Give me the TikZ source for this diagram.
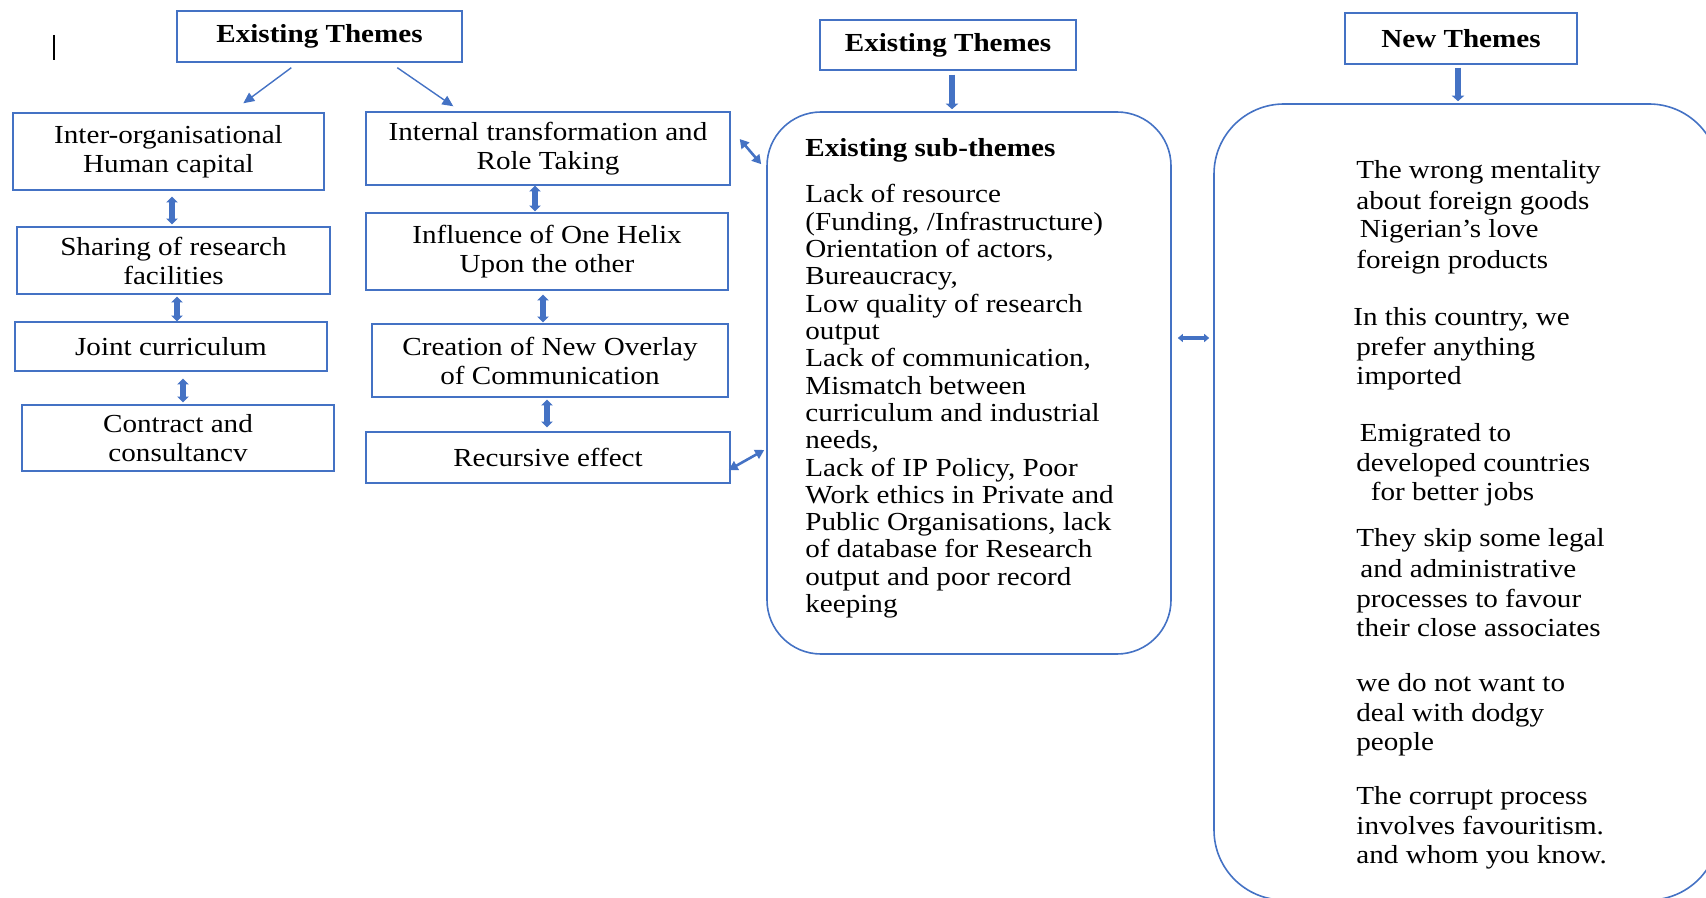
\documentclass[tikz,border=0pt]{standalone}
\usepackage{fontspec}
\setmainfont{Liberation Serif}[FakeStretch=1.12]
\usetikzlibrary{arrows.meta,calc}
\definecolor{boxblue}{RGB}{68,114,196}

\begin{document}
\begin{tikzpicture}[x=0.5pt,y=-0.5pt,
  every node/.style={font=\fontsize{13}{14.5}\selectfont, text=black},
  box/.style={draw=boxblue, line width=0.7pt, inner sep=0pt, align=center},
  boldbox/.style={box, font=\bfseries\fontsize{13}{14.5}\selectfont},
  roundbox/.style={draw=boxblue, line width=0.8pt, inner sep=0pt},
  thinarr/.style={draw=boxblue, line width=0.7pt, -{Triangle[length=5.5pt,width=5pt]}},
  vdbl/.style={draw=boxblue, line width=2.8pt, {Triangle[length=2.8pt,width=5.6pt]}-{Triangle[length=2.8pt,width=5.6pt]}},
  ddbl/.style={draw=boxblue, line width=1.3pt, {Triangle[length=4.5pt,width=5pt]}-{Triangle[length=4.5pt,width=5pt]}},
  hdbl/.style={draw=boxblue, line width=1.8pt, {Triangle[length=2.5pt,width=4pt]}-{Triangle[length=2.5pt,width=4pt]}},
  downarr/.style={draw=boxblue, line width=3pt, -{Triangle[length=2.8pt,width=6.2pt]}},
  textline/.style={anchor=base west, inner sep=0pt}
]
\useasboundingbox (0,0) rectangle (1706,898);
\clip (0,0) rectangle (1706,898);

% text cursor mark
\draw[line width=1pt] (54,35) -- (54,60);

% left group
\node[boldbox, minimum width=142.5pt, minimum height=25.5pt] (et1) at (319.5,36.5) {Existing Themes};
\node[box, minimum width=155.5pt, minimum height=38.5pt] (inter) at (168.5,151.5) {Inter-organisational\\Human capital};
\node[box, minimum width=156.5pt, minimum height=33.5pt] (share) at (173.5,260.5) {Sharing of research\\facilities};
\node[box, minimum width=156pt, minimum height=24.5pt] (joint) at (171,346.5) {Joint curriculum};
\node[box, minimum width=156pt, minimum height=33pt] (contract) at (178,438) {Contract and\\consultancv};

\node[box, minimum width=182pt, minimum height=36.5pt] (internal) at (548,148.5) {Internal transformation and\\Role Taking};
\node[box, minimum width=181pt, minimum height=38.5pt] (influence) at (547,251.5) {Influence of One Helix\\Upon the other};
\node[box, minimum width=178pt, minimum height=36.5pt] (creation) at (550,360.5) {Creation of New Overlay\\of Communication};
\node[box, minimum width=182pt, minimum height=25.5pt] (recursive) at (548,457.5) {Recursive effect};

% middle group
\node[boldbox, minimum width=128pt, minimum height=25pt] (et2) at (948,45) {Existing Themes};
\node[roundbox, rounded corners=27pt, minimum width=202pt, minimum height=271pt] (sub) at (969,383) {};

% right group
\node[boldbox, minimum width=116pt, minimum height=25.5pt] (newthemes) at (1461,38.5) {New Themes};
\node[roundbox, rounded corners=35pt, minimum width=252.5pt, minimum height=398pt] (newbox) at (1466.5,502) {};

% connectors
\draw[thinarr] ($(et1.south west)+(115,5)$) -- ($(inter.north west)+(231,-9)$);
\draw[thinarr] ($(et1.south west)+(221,5)$) -- ($(internal.north west)+(88,-5)$);

\draw[vdbl] ($(inter.south)+(3.5,6)$) -- ($(share.north)+(-1.5,-2)$);
\draw[vdbl] ($(share.south)+(3.5,2)$) -- ($(joint.north)+(6,0)$);
\draw[vdbl] ($(joint.south)+(12,7)$) -- ($(contract.north)+(5,-2)$);
\draw[vdbl] ($(internal.south)+(-13,0)$) -- ($(influence.north)+(-12,-1)$);
\draw[vdbl] ($(influence.south)+(-4,4)$) -- ($(creation.north)+(-7,-1)$);
\draw[vdbl] ($(creation.south)+(-3,2)$) -- ($(recursive.north)+(-1,-4)$);

\draw[ddbl] ($(internal.east)+(9,-9.5)$) -- ($(sub.north west)+(-5,53)$);
\draw[ddbl] ($(recursive.east)+(-2,12.5)$) -- ($(sub.west)+(-2,67)$);

\draw[downarr] ($(et2.south)+(4,4)$) -- ($(sub.north)+(-17,-2)$);
\draw[downarr] ($(newthemes.south)+(-3,3)$) -- ($(newbox.north)+(-8.5,-2)$);
\draw[hdbl] ($(sub.east)+(6,-45)$) -- ($(newbox.west)+(-4,-164)$);

% sub-theme list
\node[textline, font=\bfseries\fontsize{13}{14.5}\selectfont] (subhead) at (805,157) {Existing sub-themes};
\foreach \t [count=\i] in {Lack of resource, {(Funding, /Infrastructure)}, {Orientation of actors,},
  {Bureaucracy,}, Low quality of research, output, {Lack of communication,}, Mismatch between,
  curriculum and industrial, {needs,}, {Lack of IP Policy, Poor}, Work ethics in Private and,
  {Public Organisations, lack}, of database for Research, output and poor record, keeping}
  \node[textline] (sub\i) at (805,{203+27.3*(\i-1)}) {\t};

% new theme quotes
\foreach \t/\dx/\yy [count=\i] in {
  The wrong mentality/0/179, about foreign goods/0/210, Nigerian’s love/3.5/238, foreign products/0/269,
  {In this country, we}/-3/326, prefer anything/0/356, imported/0/384,
  Emigrated to/3.5/441, developed countries/0/471, for better jobs/14.5/500,
  They skip some legal/0/546, and administrative/4/577, processes to favour/0/607, their close associates/0/636,
  we do not want to/0/691, deal with dodgy/0/721, people/0/750,
  The corrupt process/0/804, involves favouritism./0/834, and whom you know./0/863}
  \node[textline] (r\i) at ({1356+\dx},\yy) {\t};
\end{tikzpicture}
\end{document}
